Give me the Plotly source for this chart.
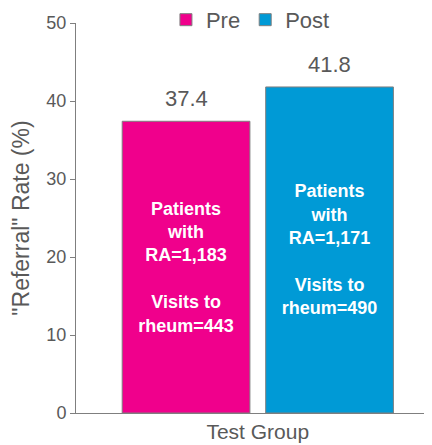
import plotly.graph_objects as go

groups = ["Pre", "Post"]
rates = [37.4, 41.8]
patients_ra = ["1,183", "1,171"]
rheum_visits = ["443", "490"]
colors = ["#F0008C", "#009AD6"]
category = "Test Group"
positions = [0, 1]

FONT = "Arial, Liberation Sans, sans-serif"
GRAY = "#595959"

fig = go.Figure()
for i, g in enumerate(groups):
    inner = f"<b>Patients<br>with<br>RA={patients_ra[i]}<br><br>Visits to<br>rheum={rheum_visits[i]}</b>"
    fig.add_trace(go.Bar(
        x=[positions[i]], y=[rates[i]], name=g, width=0.89,
        marker=dict(color=colors[i], line=dict(color="#7F7F7F", width=1)),
        text=[inner], textposition="inside", insidetextanchor="middle",
        textangle=0,
        textfont=dict(color="white", size=18, family=FONT),
        hoverinfo="skip",
    ))

for x, v in zip(positions, rates):
    fig.add_annotation(x=x, y=v, text=f"{v:.1f}", showarrow=False,
                       xanchor="center", yanchor="bottom", yshift=8,
                       font=dict(size=22, color=GRAY, family=FONT))

fig.update_layout(
    width=432, height=445,
    margin=dict(l=68, r=8, t=15, b=40, autoexpand=False),
    plot_bgcolor="white", paper_bgcolor="white",
    barmode="overlay",
    font=dict(family=FONT, color=GRAY),
    legend=dict(orientation="h", x=0.49, xanchor="center", y=1.008, yanchor="middle",
                font=dict(size=22, color=GRAY),
                bgcolor="rgba(0,0,0,0)"),
    xaxis=dict(range=[-0.767, 1.714], tickvals=[0.5], ticktext=[category],
               showline=True, linecolor="#7F7F7F", linewidth=1, ticks="",
               tickfont=dict(size=21, color=GRAY), showgrid=False, zeroline=False,
               fixedrange=True),
    yaxis=dict(range=[0, 50], tickvals=[0, 10, 20, 30, 40, 50],
               showline=True, linecolor="#7F7F7F", linewidth=1,
               ticks="outside", ticklen=5, tickcolor="#7F7F7F",
               tickfont=dict(size=18, color=GRAY), showgrid=False, zeroline=False,
               title=dict(text='"Referral" Rate (%)', font=dict(size=23, color=GRAY), standoff=10)),
)

fig.write_html("out.html")
